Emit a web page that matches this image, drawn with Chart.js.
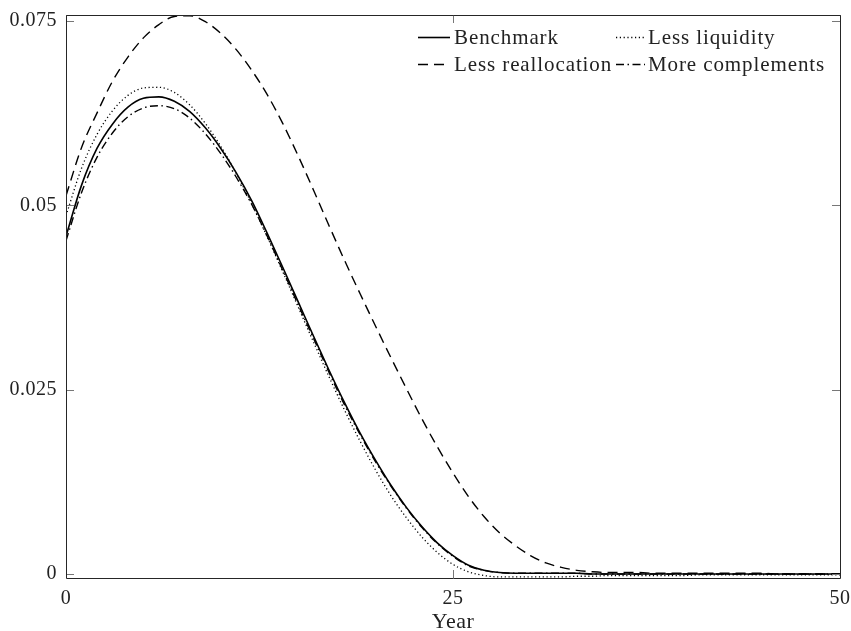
<!DOCTYPE html>
<html>
<head>
<meta charset="utf-8">
<script src="https://cdn.jsdelivr.net/npm/chart.js@4.4.1/dist/chart.umd.min.js"></script>
<style>
    html, body { margin: 0; padding: 0; background: #fff; }
    #wrap { width: 851px; height: 631px; }
</style>
</head>
<body>
<div id="wrap"><canvas id="chart" width="851" height="631"></canvas></div>
<script>
// --- Data ---
const years = [
    0, 1, 2, 3, 4, 5, 6, 7, 8, 9, 10, 11, 12, 13, 14, 15, 16, 17, 18, 19, 20,
    21, 22, 23, 24, 25, 26, 27, 28, 29, 30, 31, 32, 33, 34, 35, 36, 37, 38, 39, 40,
    41, 42, 43, 44, 45, 46, 47, 48, 49, 50
];

const benchmark = [
    0.0458, 0.0527, 0.0577, 0.0610, 0.0633, 0.0645, 0.0647, 0.0641, 0.0627, 0.0605, 0.0577,
    0.0544, 0.0506, 0.0462, 0.0416, 0.0369, 0.0322, 0.0276, 0.0232, 0.0191, 0.0154,
    0.0120, 0.0090, 0.0064, 0.0042, 0.0025, 0.0012, 0.0005, 0.0002, 0.0001, 0.0001,
    0.0001, 0.0001, 0.0001, 0.0000, 0.0000, 0.0000, 0.0000, 0.0000, 0.0000, 0.0000,
    0.0000, 0.0000, 0.0000, 0.0000, 0.0000, 0.0000, 0.0000, 0.0000, 0.0000, 0.0000
];

const lessLiquidity = [
    0.0486, 0.0550, 0.0596, 0.0628, 0.0649, 0.0659, 0.0660, 0.0653, 0.0636, 0.0611, 0.0580,
    0.0543, 0.0502, 0.0457, 0.0410, 0.0362, 0.0314, 0.0267, 0.0222, 0.0180, 0.0141,
    0.0106, 0.0076, 0.0050, 0.0029, 0.0013, 0.0003, -0.0002, -0.0004, -0.0004, -0.0004,
    -0.0004, -0.0004, -0.0003, -0.0003, -0.0002, -0.0002, -0.0002, -0.0002, -0.0002, -0.0002,
    -0.0001, -0.0001, -0.0001, -0.0001, -0.0001, -0.0001, -0.0001, -0.0001, -0.0001, -0.0001
];

const lessReallocation = [
    0.0513, 0.0578, 0.0625, 0.0668, 0.0701, 0.0727, 0.0745, 0.0756, 0.0757, 0.0749, 0.0733,
    0.0711, 0.0683, 0.0650, 0.0611, 0.0567, 0.0520, 0.0472, 0.0425, 0.0380, 0.0336,
    0.0293, 0.0251, 0.0210, 0.0172, 0.0137, 0.0105, 0.0078, 0.0056, 0.0039, 0.0025,
    0.0015, 0.0009, 0.0005, 0.0003, 0.0002, 0.0002, 0.0002, 0.0001, 0.0001, 0.0001,
    0.0001, 0.0001, 0.0001, 0.0001, 0.0001, 0.0000, 0.0000, 0.0000, 0.0000, 0.0000
];

const moreComplements = [
    0.0452, 0.0517, 0.0565, 0.0598, 0.0620, 0.0632, 0.0635, 0.0631, 0.0618, 0.0597, 0.0570,
    0.0538, 0.0501, 0.0458, 0.0412, 0.0365, 0.0319, 0.0273, 0.0229, 0.0189, 0.0152,
    0.0119, 0.0089, 0.0063, 0.0041, 0.0024, 0.0011, 0.0005, 0.0002, 0.0001, 0.0001,
    0.0001, 0.0001, 0.0001, 0.0000, 0.0000, 0.0000, 0.0000, 0.0000, 0.0000, 0.0000,
    0.0000, 0.0000, 0.0000, 0.0000, 0.0000, 0.0000, 0.0000, 0.0000, 0.0000, 0.0000
];

const xTicks = [0, 25, 50];
const yTicks = [0, 0.025, 0.05, 0.075];
const yTickLabels = ['0', '0.025', '0.05', '0.075'];
const seriesNames = ['Benchmark', 'Less liquidity', 'Less reallocation', 'More complements'];

const FONT = "'Liberation Serif', 'DejaVu Serif', serif";
const INK = '#222';

const toPoints = vals => years.map((t, i) => ({ x: t, y: vals[i] }));

const lineStyle = (label, vals, dash, width) => ({
    label: label,
    data: toPoints(vals),
    borderColor: '#000',
    borderWidth: width,
    borderDash: dash,
    pointRadius: 0,
    fill: false,
    cubicInterpolationMode: 'monotone'
});

// computer modern is wider than times, spread the glyphs a bit
const spacingPlugin = {
    id: 'spacing',
    beforeDraw(chart) { chart.ctx.letterSpacing = '0.5px'; }
};

// --- frame + inward ticks (matlab style box) ---
const framePlugin = {
    id: 'frame',
    afterDatasetsDraw(chart) {
        const { ctx, chartArea: a, scales } = chart;
        const tl = 8;
        ctx.save();
        ctx.strokeStyle = '#777';
        ctx.lineWidth = 1;
        ctx.beginPath();
        xTicks.forEach(v => {
            const px = Math.round(scales.x.getPixelForValue(v)) + 0.5;
            ctx.moveTo(px, a.bottom); ctx.lineTo(px, a.bottom - tl);
            ctx.moveTo(px, a.top); ctx.lineTo(px, a.top + tl);
        });
        yTicks.forEach(v => {
            const py = Math.round(scales.y.getPixelForValue(v)) + 0.5;
            ctx.moveTo(a.left, py); ctx.lineTo(a.left + tl, py);
            ctx.moveTo(a.right, py); ctx.lineTo(a.right - tl, py);
        });
        ctx.stroke();

        ctx.strokeStyle = '#262626';
        ctx.beginPath();
        ctx.rect(Math.round(a.left) + 0.5, Math.round(a.top) + 0.5,
                 Math.round(a.right - a.left), Math.round(a.bottom - a.top));
        ctx.stroke();
        ctx.restore();
    }
};

// --- legend inside the axes, two columns ---
const legendPlugin = {
    id: 'boxLegend',
    afterDraw(chart) {
        const { ctx, chartArea: a } = chart;
        const cols = [
            { sx: a.left + 352, sw: 32, tx: a.left + 388 },
            { sx: a.left + 550, sw: 29, tx: a.left + 582 }
        ];
        const rows = [a.top + 22, a.top + 49];
        ctx.save();
        ctx.font = '21px ' + FONT;
        ctx.letterSpacing = '0.9px';
        ctx.fillStyle = INK;
        ctx.textBaseline = 'middle';
        seriesNames.forEach((name, i) => {
            const ds = chart.data.datasets[i];
            const c = cols[i % 2];
            const y = rows[Math.floor(i / 2)];
            ctx.strokeStyle = '#000';
            ctx.lineWidth = ds.borderWidth;
            ctx.setLineDash(ds.borderDash);
            ctx.beginPath();
            ctx.moveTo(c.sx, y + 0.5);
            ctx.lineTo(c.sx + c.sw, y + 0.5);
            ctx.stroke();
            ctx.setLineDash([]);
            ctx.fillText(name, c.tx, y + 1);
        });
        ctx.restore();
    }
};

new Chart(document.getElementById('chart'), {
    type: 'line',
    data: {
        datasets: [
            lineStyle(seriesNames[0], benchmark, [], 1.6),
            lineStyle(seriesNames[1], lessLiquidity, [1.2, 2.6], 1.3),
            lineStyle(seriesNames[2], lessReallocation, [10, 6], 1.4),
            lineStyle(seriesNames[3], moreComplements, [8, 3.5, 1.5, 3.5], 1.4)
        ]
    },
    options: {
        responsive: false,
        devicePixelRatio: 1,
        animation: false,
        layout: { padding: { top: 15, right: 11, left: 0, bottom: 0 } },
        plugins: {
            legend: { display: false },
            tooltip: { enabled: false }
        },
        scales: {
            x: {
                type: 'linear',
                min: 0,
                max: 50,
                afterBuildTicks: s => { s.ticks = xTicks.map(v => ({ value: v })); },
                afterFit: s => { s.height = 53; s.paddingLeft = 0; s.paddingRight = 0; },
                grid: { display: false, drawTicks: false },
                border: { display: false },
                ticks: {
                    color: INK,
                    padding: 9,
                    maxRotation: 0,
                    font: { family: FONT, size: 20 }
                },
                title: {
                    display: true,
                    text: 'Year',
                    color: INK,
                    padding: { top: 0, bottom: -4 },
                    font: { family: FONT, size: 22 }
                }
            },
            y: {
                min: -0.00054,
                max: 0.0758,
                afterBuildTicks: s => { s.ticks = yTicks.map(v => ({ value: v })); },
                afterFit: s => { s.width = 66; s.paddingTop = 0; s.paddingBottom = 0; },
                grid: { display: false, drawTicks: false },
                border: { display: false },
                ticks: {
                    color: INK,
                    padding: 9,
                    font: { family: FONT, size: 20 },
                    callback: v => yTickLabels[yTicks.indexOf(v)]
                }
            }
        }
    },
    plugins: [spacingPlugin, framePlugin, legendPlugin]
});
</script>
</body>
</html>
